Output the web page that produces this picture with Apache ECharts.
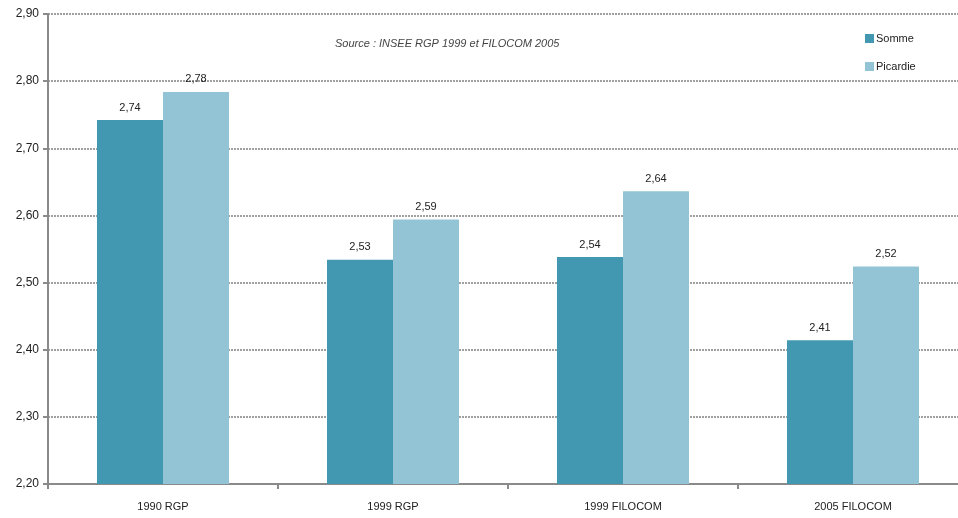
<!DOCTYPE html>
<html>
<head>
<meta charset="utf-8">
<script src="https://cdn.jsdelivr.net/npm/echarts@6/dist/echarts.min.js"></script>
<style>
  html, body { margin: 0; padding: 0; background: #fff; }
  #chart { width: 958px; height: 518px; }
</style>
</head>
<body>
<div id="chart"></div>
<script>
// Taille moyenne des ménages
const categories = ['1990 RGP', '1999 RGP', '1999 FILOCOM', '2005 FILOCOM'];
const somme = [2.742, 2.534, 2.538, 2.414];
const picardie = [2.784, 2.594, 2.636, 2.524];
const seriesNames = ['Somme', 'Picardie'];
const sourceText = 'Source : INSEE RGP 1999 et FILOCOM 2005';

const fmt = v => v.toFixed(2).replace('.', ',');
const font = '"Liberation Sans", Arial, sans-serif';

const chart = echarts.init(document.getElementById('chart'), null, { renderer: 'canvas' });

const labelStyle = {
  show: true,
  position: 'top',
  distance: 7,
  color: '#222',
  fontSize: 11,
  fontFamily: font,
  formatter: p => fmt(p.value)
};

chart.setOption({
  animation: false,
  textStyle: { fontFamily: font },
  graphic: [{
    type: 'text',
    left: 335,
    top: 38,
    style: {
      text: sourceText,
      fill: '#444',
      font: 'italic 11px "Liberation Sans Narrow", "Liberation Sans", Arial, sans-serif'
    }
  }],
  legend: {
    data: seriesNames,
    orient: 'vertical',
    left: 860,
    top: 28,
    itemWidth: 9,
    itemHeight: 9,
    itemGap: 17,
    icon: 'rect',
    textStyle: { fontSize: 11, color: '#222', fontFamily: font, padding: [0, 0, 0, -3] }
  },
  // the plot runs past the right edge; the last category is cut off
  grid: { left: 48, width: 920, top: 14, height: 470, outerBoundsMode: 'none', containLabel: false },
  xAxis: {
    type: 'category',
    data: categories,
    axisLine: { lineStyle: { color: '#8a8a8a', width: 2 } },
    axisTick: { show: true, length: 5, lineStyle: { color: '#8a8a8a', width: 2 } },
    axisLabel: { color: '#222', fontSize: 11, margin: 17, fontFamily: font }
  },
  yAxis: {
    type: 'value',
    min: 2.2,
    max: 2.9,
    interval: 0.1,
    axisLine: { show: true, lineStyle: { color: '#8a8a8a', width: 2 } },
    axisTick: { show: true, length: 5, lineStyle: { color: '#8a8a8a', width: 2 } },
    axisLabel: { color: '#222', fontSize: 12, margin: 9, fontFamily: font, formatter: v => fmt(v) },
    splitLine: { show: true, lineStyle: { color: '#a0a0a0', width: 2, type: [2, 1] } }
  },
  series: [
    {
      name: seriesNames[0],
      type: 'bar',
      data: somme,
      barGap: '0%',
      barCategoryGap: '42.6%',
      itemStyle: { color: '#4298b0' },
      label: labelStyle
    },
    {
      name: seriesNames[1],
      type: 'bar',
      data: picardie,
      itemStyle: { color: '#93c4d5' },
      label: labelStyle
    }
  ]
});
</script>
</body>
</html>
